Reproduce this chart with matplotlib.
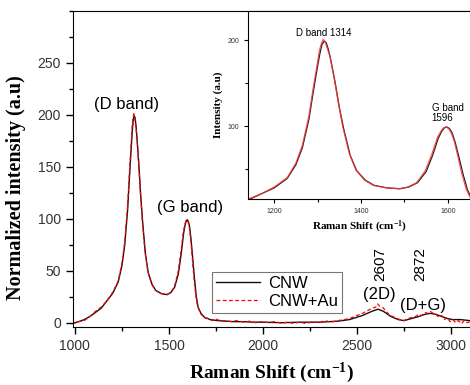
import numpy as np
import matplotlib
matplotlib.use("Agg")
from matplotlib import pyplot as plt
from matplotlib.ticker import MultipleLocator

# spectra
cnw_shift = [985, 1000, 1020, 1050, 1080, 1110, 1140, 1170, 1200, 1230, 1250, 1265,
             1280, 1290, 1300, 1305, 1310, 1315, 1320, 1325, 1330, 1340, 1350, 1360,
             1375, 1390, 1410, 1430, 1460, 1490, 1510, 1530, 1550, 1565, 1578, 1586,
             1592, 1598, 1604, 1610, 1617, 1625, 1635, 1645, 1655, 1670, 1690, 1720,
             1760, 1800, 1850, 1900, 1950, 2000, 2100, 2200, 2300, 2400, 2460, 2530,
             2580, 2612, 2640, 2680, 2720, 2750, 2790, 2830, 2860, 2890, 2920, 2950,
             2980, 3010, 3050, 3100]
cnw_int = [0, 0, 1, 3, 6, 10, 14, 21, 28, 39, 55, 75,
           108, 140, 170, 184, 195, 199, 197, 189, 178, 152, 122, 97,
           66, 48, 37, 31, 28, 27, 29, 34, 47, 66, 86, 94,
           98, 99, 97, 92, 81, 65, 44, 26, 15, 9, 5, 3,
           2, 1.5, 1, 1, 0.5, 0.5, 0, 0.5, 0.5, 1.5, 3, 7,
           11, 13, 11, 6, 3, 2, 4, 6, 8, 9, 8, 6,
           4, 3, 3, 2]

au_shift = [985, 1000, 1020, 1050, 1080, 1110, 1140, 1170, 1200, 1230, 1250, 1265,
            1280, 1290, 1300, 1304, 1309, 1313, 1317, 1322, 1328, 1338, 1348, 1358,
            1373, 1388, 1408, 1428, 1458, 1488, 1508, 1528, 1548, 1563, 1576, 1584,
            1590, 1596, 1602, 1608, 1615, 1622, 1632, 1642, 1652, 1667, 1687, 1710,
            1730, 1750, 1780, 1800, 1830, 1860, 1900, 1930, 1960, 2000, 2030, 2060,
            2100, 2130, 2160, 2200, 2230, 2260, 2300, 2330, 2360, 2400, 2430, 2460,
            2500, 2530, 2560, 2580, 2600, 2610, 2620, 2635, 2650, 2670, 2690, 2710,
            2730, 2750, 2770, 2790, 2810, 2830, 2845, 2860, 2875, 2890, 2905, 2920,
            2935, 2950, 2965, 2980, 2995, 3010, 3025, 3040, 3055, 3070, 3085, 3100]
au_int = [0, -0.5, 1, 2, 6, 11, 15, 21, 29, 40, 57, 78,
          112, 145, 175, 188, 197, 201, 199, 191, 182, 156, 126, 99,
          68, 49, 37, 31, 28, 27, 29, 34, 48, 67, 87, 94,
          98, 99, 97, 92, 82, 67, 45, 27, 16, 9, 5, 4,
          2, 3.5, 1.5, 2, 1, 2, 0.5, 1.5, 0, 1, 0, 1,
          -0.5, 0.5, -0.5, 0.5, -1, 1, 0, 2, 0.5, 2, 3, 4,
          7, 9, 12, 14, 15, 18, 16, 15, 12, 8, 6, 4,
          3, 2, 4, 5, 6, 8, 7, 10, 9, 11, 9, 8,
          5, 7, 3, 5, 1, 3, 0, 2, -1, 2, 0, 1]

sans = "Liberation Sans"
serif = "Liberation Serif"
tick_col = "#333333"

plt.rcParams["mathtext.fontset"] = "custom"
plt.rcParams["mathtext.rm"] = "Liberation Serif:bold"
plt.rcParams["mathtext.bf"] = "Liberation Serif:bold"
plt.rcParams["mathtext.it"] = "Liberation Serif:bold"
plt.rcParams["axes.unicode_minus"] = False

fig = plt.figure(figsize=(4.7, 3.85), dpi=100)

ax = fig.add_axes([0.155, 0.151, 0.845, 0.821])
ax.plot(cnw_shift, cnw_int, color="#111111", lw=1.0, label="CNW")
ax.plot(au_shift, au_int, color="red", lw=0.9, ls=(0, (3, 2)), label="CNW+Au")
ax.set_xlim(989, 3101)
ax.set_ylim(-4, 300)
ax.set_xticks([1000, 1500, 2000, 2500, 3000])
ax.set_yticks([0, 50, 100, 150, 200, 250])
ax.xaxis.set_minor_locator(MultipleLocator(250))
ax.yaxis.set_minor_locator(MultipleLocator(25))
ax.tick_params(which="major", direction="out", length=5, width=1, labelsize=10,
               labelcolor=tick_col)
ax.tick_params(which="minor", direction="out", length=3, width=1)
for lab in ax.get_xticklabels() + ax.get_yticklabels():
    lab.set_family(sans)
ax.spines["right"].set_visible(False)
ax.set_xlabel("Raman Shift (cm$^{-1}$)", family=serif, fontweight="bold",
              fontsize=14, labelpad=6)
ax.set_ylabel("Normalized intensity (a.u)", family=serif, fontweight="bold",
              fontsize=14.5)
ax.yaxis.set_label_coords(-0.118, 0.44)

ax.text(1277, 210, "(D band)", family=sans, fontsize=12, ha="center", va="center")
ax.text(1612, 111, "(G band)", family=sans, fontsize=12, ha="center", va="center")
ax.text(2622, 56, "2607", family=sans, fontsize=11, rotation=90, ha="center", va="center")
ax.text(2617, 27, "(2D)", family=sans, fontsize=12, ha="center", va="center")
ax.text(2835, 56, "2872", family=sans, fontsize=11, rotation=90, ha="center", va="center")
ax.text(2851, 17, "(D+G)", family=sans, fontsize=12, ha="center", va="center")

leg = ax.legend(loc="lower left", bbox_to_anchor=(0.33, 0.018), fancybox=False,
                edgecolor="#555555", prop={"family": sans, "size": 12},
                handlelength=2.6, borderpad=0.25, labelspacing=0.15, handletextpad=0.5)
leg.get_frame().set_linewidth(0.8)

# inset
ins = fig.add_axes([0.528, 0.483, 0.472, 0.488])
ins.plot(cnw_shift, cnw_int, color="#222222", lw=0.9)
ins.plot(au_shift, au_int, color="#ff3333", lw=0.9, alpha=0.85)
ins.set_xlim(1140, 1651)
ins.set_ylim(15, 234)
ins.set_xticks([1200, 1400, 1600])
ins.set_yticks([100, 200])
ins.xaxis.set_minor_locator(MultipleLocator(100))
ins.yaxis.set_minor_locator(MultipleLocator(50))
ins.tick_params(which="major", direction="out", length=3, width=0.8, labelsize=5,
                labelcolor=tick_col)
ins.tick_params(which="minor", direction="out", length=2, width=0.8)
for lab in ins.get_xticklabels() + ins.get_yticklabels():
    lab.set_family(sans)
ins.spines["right"].set_visible(False)
for s in ins.spines.values():
    s.set_linewidth(0.8)
ins.set_xlabel("Raman Shift (cm$^{-1}$)", family=serif, fontweight="bold",
               fontsize=8, labelpad=3)
ins.set_ylabel("Intensity (a.u)", family=serif, fontweight="bold", fontsize=8, labelpad=3)
ins.text(1314, 209, "D band 1314", family=sans, fontsize=7, ha="center", va="center")
ins.text(1563, 104, "G band\n1596", family=sans, fontsize=7, ha="left", va="bottom",
         linespacing=1.0)

fig.savefig("out.png", dpi=100)
